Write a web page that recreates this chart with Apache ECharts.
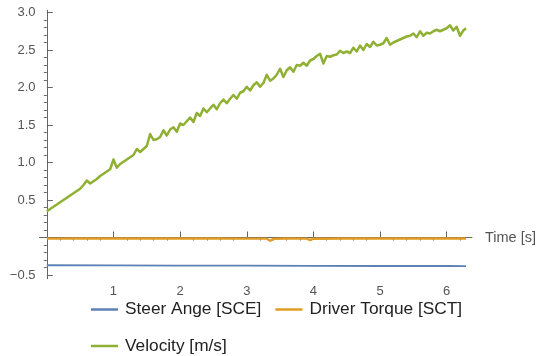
<!DOCTYPE html>
<html>
<head>
<meta charset="utf-8">
<script src="https://cdn.jsdelivr.net/npm/echarts@6/dist/echarts.min.js"></script>
<style>
  html, body { margin: 0; padding: 0; background: #fff; }
  #chart { width: 540px; height: 356px; }
</style>
</head>
<body>
<div id="chart"></div>
<script>
// Series names
const seriesNames = ['Steer Ange [SCE]', 'Driver Torque [SCT]', 'Velocity [m/s]'];

// Steer angle [time, value]
const steerAngle = [
  [0, -0.370], [1, -0.372], [2, -0.374], [3, -0.376], [4, -0.378],
  [5, -0.380], [6, -0.380], [6.29, -0.381]
];

// Driver torque [time, value]
const driverTorque = [
  [0, -0.015], [0.5, -0.013], [1, -0.014], [1.5, -0.012], [2, -0.014],
  [2.5, -0.013], [3, -0.015], [3.3, -0.015], [3.35, -0.045], [3.4, -0.018],
  [3.6, -0.014], [3.9, -0.015], [3.95, -0.035], [4.0, -0.016], [4.5, -0.013],
  [5, -0.014], [5.5, -0.013], [6, -0.014], [6.29, -0.014]
];

// Velocity [time, value]
const velocity = [
  [0.00, 0.35], [0.05, 0.38], [0.10, 0.41], [0.15, 0.44], [0.20, 0.47],
  [0.25, 0.50], [0.30, 0.53], [0.35, 0.56], [0.40, 0.59], [0.45, 0.62],
  [0.50, 0.65], [0.55, 0.70], [0.60, 0.76], [0.65, 0.72], [0.70, 0.75],
  [0.75, 0.78], [0.80, 0.82], [0.85, 0.85], [0.90, 0.88], [0.95, 0.91],
  [1.00, 1.04], [1.05, 0.93], [1.10, 0.98], [1.15, 1.01], [1.20, 1.04],
  [1.25, 1.07], [1.30, 1.10], [1.35, 1.18], [1.40, 1.14], [1.45, 1.18],
  [1.50, 1.22], [1.55, 1.38], [1.60, 1.30], [1.65, 1.31], [1.70, 1.34],
  [1.75, 1.43], [1.80, 1.36], [1.85, 1.44], [1.90, 1.47], [1.95, 1.41],
  [2.00, 1.52], [2.05, 1.50], [2.10, 1.55], [2.15, 1.60], [2.20, 1.54],
  [2.25, 1.66], [2.30, 1.62], [2.35, 1.72], [2.40, 1.67], [2.45, 1.72],
  [2.50, 1.77], [2.55, 1.71], [2.60, 1.79], [2.65, 1.84], [2.70, 1.79],
  [2.75, 1.85], [2.80, 1.90], [2.85, 1.85], [2.90, 1.93], [2.95, 1.95],
  [3.00, 2.01], [3.05, 1.96], [3.10, 2.03], [3.15, 2.07], [3.20, 2.01],
  [3.25, 2.06], [3.30, 2.17], [3.35, 2.09], [3.40, 2.12], [3.45, 2.17],
  [3.50, 2.25], [3.55, 2.14], [3.60, 2.23], [3.65, 2.27], [3.70, 2.21],
  [3.75, 2.30], [3.80, 2.29], [3.85, 2.33], [3.90, 2.29], [3.95, 2.36],
  [4.00, 2.38], [4.05, 2.42], [4.10, 2.45], [4.15, 2.32], [4.20, 2.42],
  [4.25, 2.41], [4.30, 2.43], [4.35, 2.44], [4.40, 2.49], [4.45, 2.46],
  [4.50, 2.48], [4.55, 2.46], [4.60, 2.53], [4.65, 2.48], [4.70, 2.56],
  [4.75, 2.50], [4.80, 2.58], [4.85, 2.54], [4.90, 2.61], [4.95, 2.56],
  [5.00, 2.57], [5.05, 2.59], [5.10, 2.66], [5.15, 2.57], [5.20, 2.60],
  [5.25, 2.62], [5.30, 2.64], [5.35, 2.66], [5.40, 2.68], [5.45, 2.69],
  [5.50, 2.72], [5.55, 2.67], [5.60, 2.75], [5.65, 2.69], [5.70, 2.73],
  [5.75, 2.72], [5.80, 2.75], [5.85, 2.77], [5.90, 2.75], [5.95, 2.77],
  [6.00, 2.79], [6.05, 2.83], [6.10, 2.76], [6.15, 2.81], [6.20, 2.69],
  [6.25, 2.76], [6.29, 2.79]
];

// Tick positions
const xMajorTicks = [1, 2, 3, 4, 5, 6];
const xMinorTicks = [0.2, 0.4, 0.6, 0.8, 1.2, 1.4, 1.6, 1.8, 2.2, 2.4, 2.6, 2.8,
  3.2, 3.4, 3.6, 3.8, 4.2, 4.4, 4.6, 4.8, 5.2, 5.4, 5.6, 5.8, 6.2];
const yMajorTicks = [-0.5, 0, 0.5, 1.0, 1.5, 2.0, 2.5, 3.0];
const yLabelTicks = [-0.5, 0.5, 1.0, 1.5, 2.0, 2.5, 3.0];
const yMinorTicks = [-0.4, -0.3, -0.2, -0.1, 0.1, 0.2, 0.3, 0.4,
  0.6, 0.7, 0.8, 0.9, 1.1, 1.2, 1.3, 1.4, 1.6, 1.7, 1.8, 1.9,
  2.1, 2.2, 2.3, 2.4, 2.6, 2.7, 2.8, 2.9];

const colors = ['#5E81B5', '#E19C24', '#8FB032'];
const FONT = '"Liberation Sans", Arial, Helvetica, sans-serif';
const AXIS_COLOR = '#666';
const LABEL_COLOR = '#555';

const X_MIN = -0.11, X_MAX = 6.38;
const Y_MIN = -0.55, Y_MAX = 3.03;

const chart = echarts.init(document.getElementById('chart'), null, { renderer: 'canvas' });

const yLabel = v => (v < 0 ? '\u2212' + Math.abs(v).toFixed(1) : v.toFixed(1));

chart.setOption({
  animation: false,
  backgroundColor: '#fff',
  color: colors,
  textStyle: { fontFamily: FONT },
  grid: { left: 39.5, right: 68, top: 10.25, bottom: 77.25, containLabel: false },
  legend: [
    {
      data: [seriesNames[0], seriesNames[1]],
      left: 86, top: 296,
      icon: 'rect', itemWidth: 27, itemHeight: 2.5, itemGap: 14,
      textStyle: { fontSize: 17.3, color: '#222', fontFamily: FONT, padding: [0, 0, 0, 2] }
    },
    {
      data: [seriesNames[2]],
      left: 86, top: 332.5,
      icon: 'rect', itemWidth: 27, itemHeight: 2.5,
      textStyle: { fontSize: 17.3, color: '#222', fontFamily: FONT, padding: [0, 0, 0, 2] }
    }
  ],
  xAxis: [
    {
      type: 'value', min: X_MIN, max: X_MAX,
      name: 'Time [s]', nameLocation: 'end', nameGap: 13,
      nameTextStyle: { fontSize: 14.5, color: LABEL_COLOR, fontFamily: FONT, verticalAlign: 'middle' },
      axisLine: { show: true, onZero: true, onZeroAxisIndex: 0, lineStyle: { color: AXIS_COLOR, width: 1 } },
      axisTick: { show: true, inside: true, length: 6, customValues: xMajorTicks, lineStyle: { color: AXIS_COLOR } },
      axisLabel: { customValues: xMajorTicks, color: LABEL_COLOR, fontSize: 13, margin: 6, fontFamily: FONT },
      splitLine: { show: false }
    },
    {
      type: 'value', min: X_MIN, max: X_MAX,
      axisLine: { show: false, onZero: true, onZeroAxisIndex: 0 },
      axisTick: { show: true, inside: true, length: 3, customValues: xMinorTicks, lineStyle: { color: AXIS_COLOR } },
      axisLabel: { show: false },
      splitLine: { show: false }
    }
  ],
  yAxis: [
    {
      type: 'value', min: Y_MIN, max: Y_MAX,
      axisLine: { show: true, onZero: true, onZeroAxisIndex: 0, lineStyle: { color: AXIS_COLOR, width: 1 } },
      axisTick: { show: true, inside: true, length: 6, customValues: yMajorTicks, lineStyle: { color: AXIS_COLOR } },
      axisLabel: { customValues: yLabelTicks, formatter: yLabel, color: LABEL_COLOR, fontSize: 13, margin: 4, fontFamily: FONT },
      splitLine: { show: false }
    },
    {
      type: 'value', min: Y_MIN, max: Y_MAX,
      axisLine: { show: false, onZero: true, onZeroAxisIndex: 0 },
      axisTick: { show: true, inside: true, length: 3, customValues: yMinorTicks, lineStyle: { color: AXIS_COLOR } },
      axisLabel: { show: false },
      splitLine: { show: false }
    }
  ],
  series: [
    {
      name: seriesNames[0], type: 'line', data: steerAngle,
      xAxisIndex: 0, yAxisIndex: 0, showSymbol: false, symbol: 'none',
      lineStyle: { color: colors[0], width: 1.8 }, itemStyle: { color: colors[0] }
    },
    {
      name: seriesNames[1], type: 'line', data: driverTorque,
      xAxisIndex: 0, yAxisIndex: 0, showSymbol: false, symbol: 'none',
      lineStyle: { color: colors[1], width: 2.4 }, itemStyle: { color: colors[1] }
    },
    {
      name: seriesNames[2], type: 'line', data: velocity,
      xAxisIndex: 0, yAxisIndex: 0, showSymbol: false, symbol: 'none',
      lineStyle: { color: colors[2], width: 2.5, join: 'round' }, itemStyle: { color: colors[2] }
    }
  ]
});
</script>
</body>
</html>
